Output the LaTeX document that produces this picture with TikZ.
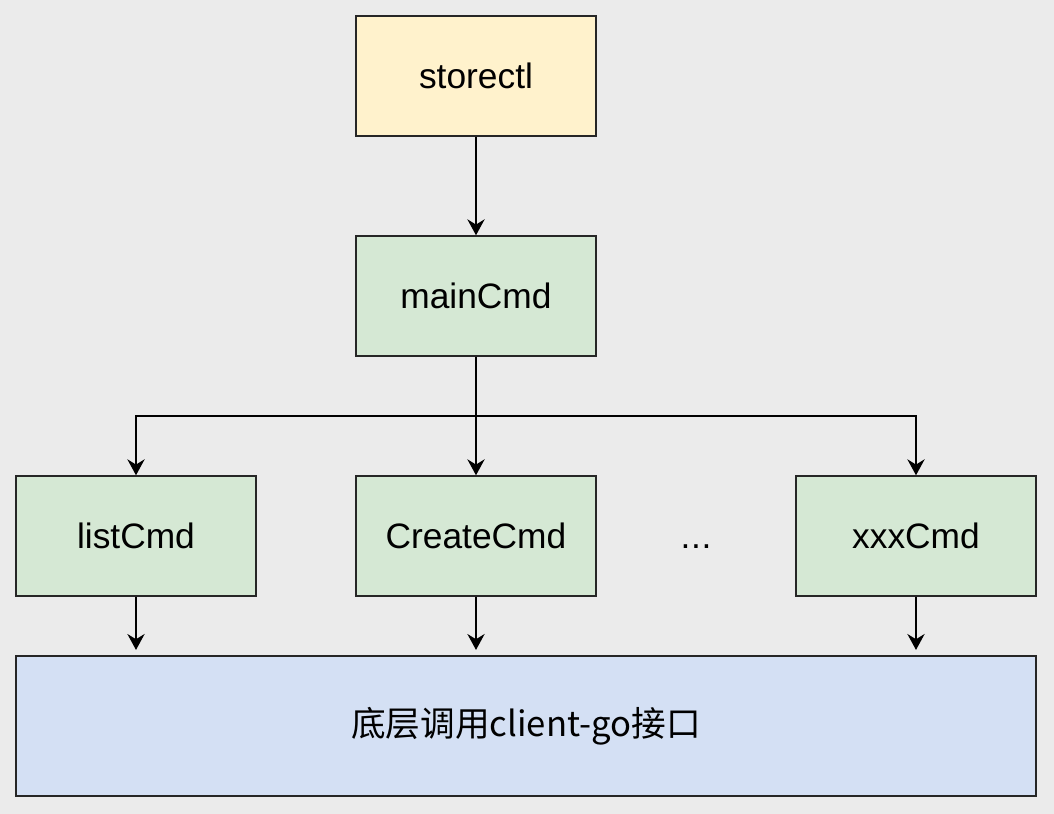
\documentclass[tikz,border=0pt]{standalone}
\usepackage{fontspec}
\setmainfont{Liberation Sans}
\newfontfamily\cjk{Noto Sans CJK SC}
\usetikzlibrary{arrows.meta}
\definecolor{bggray}{HTML}{EBEBEB}
\definecolor{cmdyellow}{HTML}{FFF2CC}
\definecolor{cmdgreen}{HTML}{D5E8D4}
\definecolor{cmdblue}{HTML}{D4E0F4}

\begin{document}
\begin{tikzpicture}[x=0.75pt, y=-0.75pt,
    cmdbox/.style={draw=black!85, line width=1.1pt, minimum width=180pt,
        minimum height=90pt, inner sep=0pt, font=\fontsize{26.5}{30}\selectfont},
    link/.style={-{Stealth[length=12pt,width=13pt,inset=4pt]}, line width=1.1pt}]
        % Background
        \fill[bggray] (0,0) rectangle (1054,814);
        \useasboundingbox (0,0) rectangle (1054,814);

        % Top of the tree
        \node[cmdbox, fill=cmdyellow] (storectl) at (476,76) {storectl};
        \node[cmdbox, fill=cmdgreen] (mainCmd) at (476,296) {mainCmd};

        % Sub commands
        \node[cmdbox, fill=cmdgreen] (listCmd) at (136,536) {listCmd};
        \node[cmdbox, fill=cmdgreen] (createCmd) at (476,536) {CreateCmd};
        \node[font=\fontsize{26.5}{30}\selectfont] (dots) at (696,536) {\vphantom{Cd}.\kern0.5pt.\kern0.5pt.};
        \node[cmdbox, fill=cmdgreen] (xxxCmd) at (916,536) {xxxCmd};

        % Client layer
        \node[cmdbox, fill=cmdblue, minimum width=765pt, minimum height=105pt,
            font=\cjk\fontsize{26}{30}\selectfont] (clientGo) at (526,726) {底层调用client-go接口};

        % Draw the arrows
        \draw[link] (storectl) -- (mainCmd);
        \coordinate (split) at (476,416);
        \draw[line width=1.1pt] (mainCmd.south) -- (split);
        \draw[link] (split) -| (listCmd.north);
        \draw[link] (split) -- (createCmd.north);
        \draw[link] (split) -| (xxxCmd.north);

        \draw[link, shorten >=4pt] (listCmd) -- (listCmd |- clientGo.north);
        \draw[link, shorten >=4pt] (createCmd) -- (createCmd |- clientGo.north);
        \draw[link, shorten >=4pt] (xxxCmd) -- (xxxCmd |- clientGo.north);
    \end{tikzpicture}
\end{document}
